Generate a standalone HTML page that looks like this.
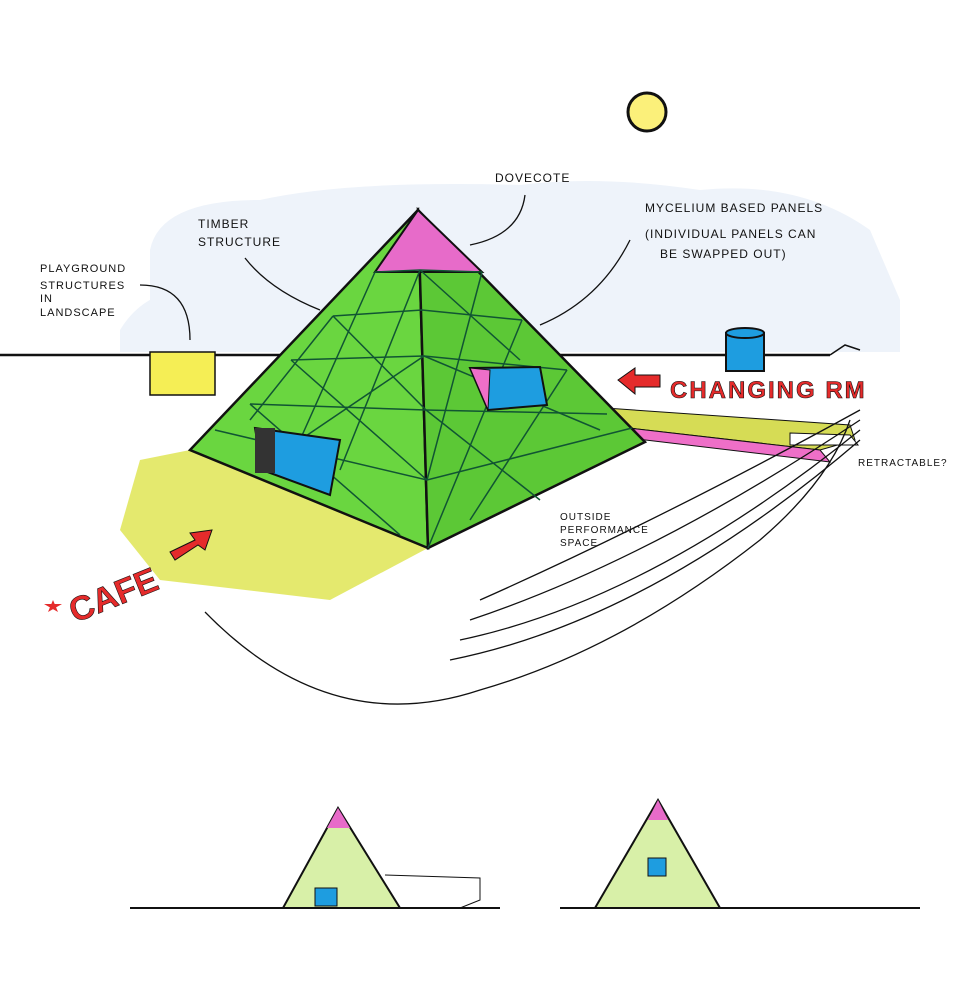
<!DOCTYPE html><html><head><style>body{margin:0;background:#fff}svg{display:block}text{font-family:"Liberation Sans",sans-serif}</style></head><body>
<svg width="957" height="1000" viewBox="0 0 957 1000" xmlns="http://www.w3.org/2000/svg">
<rect width="957" height="1000" fill="#fff"/>
<path d="M150,250 Q160,200 260,200 Q350,180 520,185 Q600,175 700,190 Q800,180 870,230 L900,300 L900,352 L150,352 Z" fill="#eef3fa"/>
<path d="M120,330 Q150,280 220,290 L220,352 L120,352Z" fill="#eef3fa"/>
<circle cx="647" cy="112" r="19" fill="#fbf07a" stroke="#111" stroke-width="3"/>
<line x1="0" y1="355" x2="830" y2="355" stroke="#111" stroke-width="2.5"/>
<path d="M830,355 L845,345 L860,350" stroke="#111" fill="none" stroke-width="1.5"/>
<rect x="150" y="352" width="65" height="43" fill="#f5ee55" stroke="#111" stroke-width="1.5"/>
<rect x="726" y="333" width="38" height="38" fill="#1e9de0" stroke="#111" stroke-width="2"/>
<ellipse cx="745" cy="333" rx="19" ry="5" fill="#1e9de0" stroke="#111" stroke-width="2"/>
<path d="M190,450 L428,548 L330,600 L160,580 L120,530 L140,460Z" fill="#dfe555" opacity="0.85"/>
<polygon points="490,400 850,425 855,440 820,450 490,412" fill="#d6dc55" stroke="#111"/>
<polygon points="490,412 820,450 830,462 495,422" fill="#ee6fc8" stroke="#111"/>
<polygon points="790,433 850,435 858,445 790,445" fill="#fff" stroke="#111"/>
<polygon points="418,210 190,450 428,548" fill="#6ad640" stroke="#111" stroke-width="2.5"/>
<polygon points="418,210 428,548 645,442" fill="#5cc836" stroke="#111" stroke-width="2.5"/>
<polygon points="418,210 375,272 482,272" fill="#e76bc9" stroke="#111" stroke-width="2"/>
<g stroke="#153" stroke-width="1.5" fill="none">
<path d="M375,272 L420,270 L482,272 M333,316 L422,310 L522,320 M291,360 L424,356 L567,370 M250,404 L426,410 L607,414 M215,430 L427,480 L632,428"/>
<path d="M375,272 L300,440 M333,316 L250,420 M420,270 L340,470 M420,270 L520,360 M482,272 L427,480 M522,320 L428,548 M567,370 L470,520 M333,316 L426,410 M291,360 L427,480 M250,404 L400,535 M424,356 L300,440 M424,356 L600,430 M426,410 L540,500"/>
</g>
<polygon points="255,428 340,440 330,495 262,470" fill="#1e9de0" stroke="#111" stroke-width="2"/>
<rect x="255" y="428" width="20" height="45" fill="#333"/>
<polygon points="470,368 540,367 547,405 488,410" fill="#1e9de0" stroke="#111" stroke-width="2"/>
<polygon points="470,368 490,370 488,410" fill="#ee6fc8" stroke="#111"/>
<g font-size="12" fill="#111" letter-spacing="1">
<text x="495" y="182">DOVECOTE</text>
<text x="198" y="228">TIMBER</text><text x="198" y="246">STRUCTURE</text>
<text x="40" y="272" font-size="11">PLAYGROUND</text><text x="40" y="289" font-size="11">STRUCTURES</text><text x="40" y="302" font-size="11">IN</text><text x="40" y="316" font-size="11">LANDSCAPE</text>
<text x="645" y="212">MYCELIUM BASED PANELS</text>
<text x="645" y="238">(INDIVIDUAL PANELS CAN</text>
<text x="660" y="258">BE SWAPPED OUT)</text>
<text x="858" y="466" font-size="10">RETRACTABLE?</text>
<text x="560" y="520" font-size="10">OUTSIDE</text><text x="560" y="533" font-size="10">PERFORMANCE</text><text x="560" y="546" font-size="10">SPACE</text>
</g>
<g stroke="#111" fill="none" stroke-width="1.3">
<path d="M525,195 Q520,235 470,245"/><path d="M245,258 Q270,290 320,310"/><path d="M140,285 Q190,285 190,340"/><path d="M630,240 Q600,300 540,325"/>
<path d="M205,612 Q330,740 480,690 Q620,650 760,540 Q830,480 850,420"/>
<path d="M450,660 Q650,620 860,440"/><path d="M460,640 Q650,600 860,430"/><path d="M470,620 Q650,560 860,420"/><path d="M480,600 Q660,520 860,410"/>
</g>
<text x="670" y="398" font-size="24" fill="#e52b2b" font-weight="bold" letter-spacing="2" stroke="#111" stroke-width="0.6">CHANGING RM</text>
<polygon points="618,380 635,368 635,375 660,375 660,387 635,387 635,394" fill="#e52b2b" stroke="#111"/>
<text x="68" y="612" font-size="34" fill="#e52b2b" font-weight="bold" transform="rotate(-22 100 600)" stroke="#111" stroke-width="0.6">CAFE</text>
<polygon points="48,612 53,600 58,612 44,604 62,604" fill="#e52b2b"/>
<polygon points="170,552 195,540 190,533 212,530 205,550 198,545 175,560" fill="#e52b2b" stroke="#111"/>
<line x1="130" y1="908" x2="500" y2="908" stroke="#111" stroke-width="2"/>
<polygon points="338,808 283,908 400,908" fill="#d8f0a8" stroke="#111" stroke-width="2"/>
<polygon points="338,808 327,828 350,828" fill="#e76bc9"/>
<rect x="315" y="888" width="22" height="18" fill="#1e9de0" stroke="#111"/>
<path d="M385,875 L480,878 L480,900 L460,908" stroke="#111" fill="none"/>
<line x1="560" y1="908" x2="920" y2="908" stroke="#111" stroke-width="2"/>
<polygon points="658,800 595,908 720,908" fill="#d8f0a8" stroke="#111" stroke-width="2"/>
<polygon points="658,800 648,820 668,820" fill="#e76bc9"/>
<rect x="648" y="858" width="18" height="18" fill="#1e9de0" stroke="#111"/>
</svg></body></html>
